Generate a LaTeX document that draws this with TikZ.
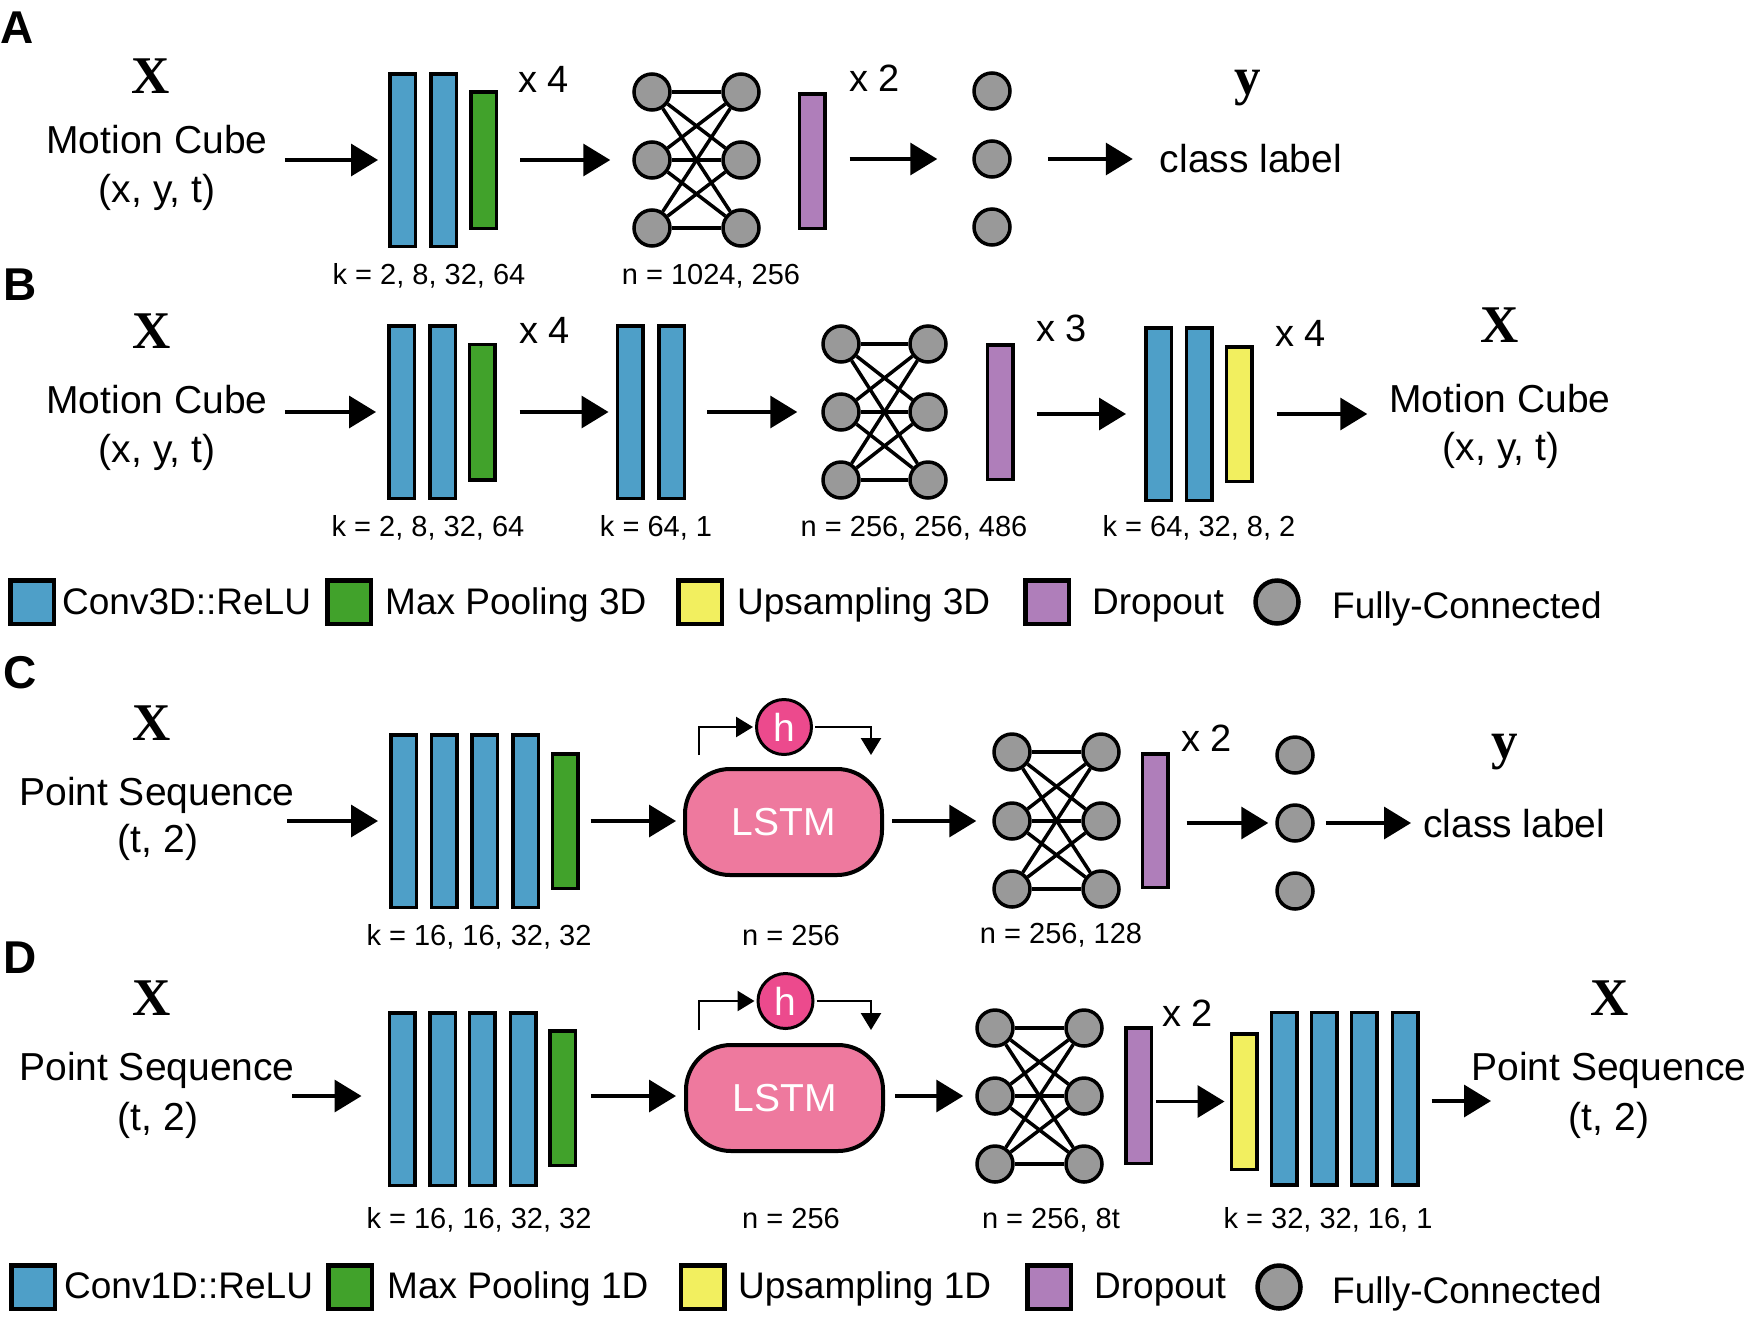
\documentclass[tikz,border=0pt]{standalone}
\usepackage{fontspec}
\setmainfont{Liberation Sans}
\newfontfamily\varfont{Liberation Serif}
\usetikzlibrary{arrows.meta}
\definecolor{cblue}{HTML}{4E9FC8}
\definecolor{cgreen}{HTML}{41A22B}
\definecolor{cyellow}{HTML}{F2EF5F}
\definecolor{cpurple}{HTML}{AF7EBA}
\definecolor{cgray}{HTML}{999999}
\definecolor{clstm}{HTML}{EE799E}
\definecolor{chid}{HTML}{EC4A8D}
\tikzset{
  bar/.style={draw=black, line width=3.5pt, inner sep=0pt, minimum width=25.5pt},
  conv/.style={bar, fill=cblue, minimum height=172.5pt},
  pool/.style={bar, fill=cgreen},
  ups/.style={bar, fill=cyellow},
  drop/.style={bar, fill=cpurple},
  neuron/.style={circle, draw=black, fill=cgray, line width=3.5pt, minimum size=36pt, inner sep=0pt},
  conn/.style={line width=3.5pt},
  arr/.style={line width=3.5pt, -{Triangle[length=27pt,width=32pt]}},
  fbarr/.style={line width=2.5pt, -{Triangle[length=17pt,width=20pt]}},
  txt/.style={font=\fontsize{39}{47}\selectfont, inner sep=0pt, anchor=base},
  rep/.style={font=\fontsize{38}{46}\selectfont, inner sep=0pt, anchor=base west},
  lab/.style={font=\fontsize{29}{35}\selectfont, inner sep=0pt, anchor=base},
  ltxt/.style={font=\fontsize{37}{44}\selectfont, inner sep=0pt, anchor=base west},
  varx/.style={font=\varfont\bfseries\fontsize{53}{60}\selectfont, inner sep=0pt, anchor=base},
  pl/.style={font=\bfseries\fontsize{46}{52}\selectfont, inner sep=0pt, anchor=base west},
  lsq/.style={draw=black, line width=4.5pt, minimum size=43.5pt, inner sep=0pt},
  lcirc/.style={circle, draw=black, fill=cgray, line width=4.5pt, minimum size=43pt, inner sep=0pt},
  lstm/.style={draw=black, fill=clstm, line width=4pt, rounded corners=45pt, minimum width=197pt, minimum height=106pt, inner sep=0pt, text=white, font=\fontsize{39}{47}\selectfont},
  hid/.style={circle, draw=black, fill=chid, line width=3pt, minimum size=55pt, inner sep=0pt, text=white, font=\fontsize{39}{47}\selectfont},
}
\begin{document}
\begin{tikzpicture}[x=1pt,y=-1pt]
\useasboundingbox (0,0) rectangle (1745,1323);

% ================= Panel A =================
\node[pl] (pA) at (0,43) {A};
\node[varx] (xA) at (151,93) {X};
\node[txt] (mcA) at (157,153) {Motion Cube};
\node[txt] (mcA2) at (157,202) {(x, y, t)};
\node[conv] (bA1) at (402.5,160) {};
\node[conv] (bA2) at (443.5,160) {};
\node[pool, minimum height=136.5pt] (gA) at (483.5,160) {};
\node[rep] (rA1) at (518,92) {x 4};
\foreach \i/\yy in {1/92,2/160,3/228}{
  \node[neuron] (nAL\i) at (652,\yy) {};
  \node[neuron] (nAR\i) at (741,\yy) {};
}
\foreach \i in {1,2,3}{\foreach \j in {1,2,3}{\draw[conn] (nAL\i) -- (nAR\j);}}
\node[drop, minimum height=134.5pt] (dA) at (812,161) {};
\node[rep] (rA2) at (849,91) {x 2};
\foreach \i/\yy in {1/91,2/159,3/227}{\node[neuron] (oA\i) at (992,\yy) {};}
\node[varx] (yA) at (1248,94) {y};
\node[txt] (clA) at (1251,172) {class label};
\node[lab] (kA1) at (429,284) {k = 2, 8, 32, 64};
\node[lab] (kA2) at (711,284) {n = 1024, 256};
\draw[arr, shorten <=17pt, shorten >=10pt] (mcA.east |- bA1.west) -- (bA1.west);
\draw[arr, shorten <=22pt, shorten >=22pt] (gA.east |- nAL2.west) -- (nAL2.west);
\draw[arr, shorten <=23pt, shorten >=35pt] (dA.east |- oA2.west) -- (oA2.west);
\draw[arr, shorten <=36pt, shorten >=27pt] (oA2.east) -- (oA2.east -| clA.west);

% ================= Panel B =================
\node[pl] (pB) at (3,300) {B};
\node[varx] (xB) at (152,348) {X};
\node[txt] (mcB) at (157,413) {Motion Cube};
\node[txt] (mcB2) at (157,462) {(x, y, t)};
\node[conv] (bB1) at (401.5,412) {};
\node[conv] (bB2) at (442.5,412) {};
\node[pool, minimum height=135.5pt] (gB) at (482,412) {};
\node[rep] (rB1) at (519,343) {x 4};
\node[conv] (bB3) at (630,412) {};
\node[conv] (bB4) at (671.5,412) {};
\foreach \i/\yy in {1/344,2/412,3/480}{
  \node[neuron] (nBL\i) at (841,\yy) {};
  \node[neuron] (nBR\i) at (928,\yy) {};
}
\foreach \i in {1,2,3}{\foreach \j in {1,2,3}{\draw[conn] (nBL\i) -- (nBR\j);}}
\node[drop, minimum height=134.5pt] (dB) at (1000,412) {};
\node[rep] (rB2) at (1036,341) {x 3};
\node[conv] (bB5) at (1158.5,414) {};
\node[conv] (bB6) at (1199,414) {};
\node[ups, minimum height=134.5pt] (uB) at (1239,414) {};
\node[rep] (rB3) at (1275,346) {x 4};
\node[varx] (xB2) at (1500,342) {X};
\node[txt] (mcB3) at (1500,412) {Motion Cube};
\node[txt] (mcB4) at (1501,460) {(x, y, t)};
\node[lab] (kB1) at (428,536) {k = 2, 8, 32, 64};
\node[lab] (kB2) at (656,536) {k = 64, 1};
\node[lab] (kB3) at (914,536) {n = 256, 256, 486};
\node[lab] (kB4) at (1199,536) {k = 64, 32, 8, 2};
\draw[arr, shorten <=17pt, shorten >=11pt] (mcB.east |- bB1.west) -- (bB1.west);
\draw[arr, shorten <=23pt, shorten >=7pt] (gB.east) -- (bB3.west);
\draw[arr, shorten <=21pt, shorten >=24pt] (bB4.east) -- (nBL2.west);
\draw[arr, shorten <=22pt, shorten >=18pt] (dB.east |- bB5.west) -- (bB5.west);
\draw[arr, shorten <=23pt, shorten >=22pt] (uB.east) -- (uB.east -| mcB3.west);

% ================= Legend 1 =================
\node[lsq, fill=cblue] (lg1a) at (32,602) {};
\node[ltxt] (lt1a) at (62,614) {Conv3D::ReLU};
\node[lsq, fill=cgreen] (lg1b) at (349,602) {};
\node[ltxt] (lt1b) at (385,614) {Max Pooling 3D};
\node[lsq, fill=cyellow] (lg1c) at (700,602) {};
\node[ltxt] (lt1c) at (737,614) {Upsampling 3D};
\node[lsq, fill=cpurple] (lg1d) at (1047,602) {};
\node[ltxt] (lt1d) at (1092,614) {Dropout};
\node[lcirc] (lg1e) at (1277,602) {};
\node[ltxt] (lt1e) at (1332,618) {Fully-Connected};

% ================= Panel C =================
\node[pl] (pC) at (3,688) {C};
\node[varx] (xC) at (152,740) {X};
\node[txt] (psC) at (157,805) {Point Sequence};
\node[txt] (psC2) at (158,852) {(t, 2)};
\node[conv] (bC1) at (403.5,821) {};
\node[conv] (bC2) at (444,821) {};
\node[conv] (bC3) at (484.5,821) {};
\node[conv] (bC4) at (525.5,821) {};
\node[pool, minimum height=134.5pt] (gC) at (565,821) {};
\node[lstm] (lC) at (783.5,822) {LSTM};
\node[hid] (hC) at (784,727) {h};
\coordinate (fC1) at (699,755);
\coordinate (fC2) at (871,755);
\draw[fbarr, shorten >=2pt] (fC1) |- (hC.west);
\draw[fbarr, shorten <=2pt] (hC.east) -| (fC2);
\foreach \i/\yy in {1/752,2/821,3/889}{
  \node[neuron] (nCL\i) at (1012,\yy) {};
  \node[neuron] (nCR\i) at (1101,\yy) {};
}
\foreach \i in {1,2,3}{\foreach \j in {1,2,3}{\draw[conn] (nCL\i) -- (nCR\j);}}
\node[drop, minimum height=133.5pt] (dC) at (1155,820.5) {};
\node[rep] (rC1) at (1181,751) {x 2};
\foreach \i/\yy in {1/755,2/823,3/891}{\node[neuron] (oC\i) at (1295,\yy) {};}
\node[varx] (yC) at (1505,758) {y};
\node[txt, anchor=base west] (clC) at (1423,837) {class label};
\node[lab] (kC1) at (479,945) {k = 16, 16, 32, 32};
\node[lab] (kC2) at (791,945) {n = 256};
\node[lab] (kC3) at (1061,943) {n = 256, 128};
\coordinate (sC1) at (287,821);
\draw[arr, shorten >=11pt] (sC1) -- (bC1.west);
\draw[arr, shorten <=11pt, shorten >=7pt] (gC.east) -- (gC.east -| lC.west);
\draw[arr, shorten <=8pt, shorten >=16pt] (lC.east |- nCL2.west) -- (nCL2.west);
\draw[arr, shorten <=17pt, shorten >=7pt] (dC.east |- oC2.west) -- (oC2.west);
\draw[arr, shorten <=11pt, shorten >=12pt] (oC2.east) -- (oC2.east -| clC.west);

% ================= Panel D =================
\node[pl] (pD) at (3,973) {D};
\node[varx] (xD) at (152,1015) {X};
\node[txt] (psD) at (157,1080) {Point Sequence};
\node[txt] (psD2) at (158,1130) {(t, 2)};
\node[conv] (bD1) at (402,1099) {};
\node[conv] (bD2) at (442.5,1099) {};
\node[conv] (bD3) at (482,1099) {};
\node[conv] (bD4) at (523,1099) {};
\node[pool, minimum height=134.5pt] (gD) at (562.5,1098) {};
\node[lstm] (lD) at (784.5,1098) {LSTM};
\node[hid] (hD) at (785.5,1001) {h};
\coordinate (fD1) at (699,1030);
\coordinate (fD2) at (871,1030);
\draw[fbarr, shorten >=2pt] (fD1) |- (hD.west);
\draw[fbarr, shorten <=2pt] (hD.east) -| (fD2);
\foreach \i/\yy in {1/1028,2/1096,3/1164}{
  \node[neuron] (nDL\i) at (995,\yy) {};
  \node[neuron] (nDR\i) at (1084,\yy) {};
}
\foreach \i in {1,2,3}{\foreach \j in {1,2,3}{\draw[conn] (nDL\i) -- (nDR\j);}}
\node[drop, minimum height=135.5pt] (dD) at (1138.5,1095.5) {};
\node[rep] (rD1) at (1162,1026) {x 2};
\node[ups, minimum height=135.5pt] (uD) at (1244,1101.5) {};
\node[conv] (bD5) at (1284,1098.5) {};
\node[conv] (bD6) at (1324,1098.5) {};
\node[conv] (bD7) at (1364,1098.5) {};
\node[conv] (bD8) at (1405,1098.5) {};
\node[varx] (xD2) at (1610,1015) {X};
\node[txt] (psD3) at (1609,1080) {Point Sequence};
\node[txt] (psD4) at (1609,1130) {(t, 2)};
\node[lab] (kD1) at (479,1228) {k = 16, 16, 32, 32};
\node[lab] (kD2) at (791,1228) {n = 256};
\node[lab] (kD3) at (1051,1228) {n = 256, 8t};
\node[lab] (kD4) at (1328,1228) {k = 32, 32, 16, 1};
\coordinate (sD1) at (292,1096);
\draw[arr, shorten >=26pt] (sD1) -- (sD1 -| bD1.west);
\draw[arr, shorten <=14pt, shorten >=8pt] (gD.east |- nDL2.west) -- (nDL2.west -| lD.west);
\draw[arr, shorten <=10pt, shorten >=12pt] (lD.east |- nDL2.west) -- (nDL2.west);
\draw[arr, shorten <=3pt, shorten >=5pt] (dD.east |- uD.west) -- (uD.west);
\coordinate (eD5) at (1491,1101);
\draw[arr, shorten <=12pt] (bD8.east |- eD5) -- (eD5);

% ================= Legend 2 =================
\node[lsq, fill=cblue] (lg2a) at (33,1287) {};
\node[ltxt] (lt2a) at (64,1298) {Conv1D::ReLU};
\node[lsq, fill=cgreen] (lg2b) at (350,1287) {};
\node[ltxt] (lt2b) at (387,1298) {Max Pooling 1D};
\node[lsq, fill=cyellow] (lg2c) at (702.5,1287) {};
\node[ltxt] (lt2c) at (738,1298) {Upsampling 1D};
\node[lsq, fill=cpurple] (lg2d) at (1049,1287) {};
\node[ltxt] (lt2d) at (1094,1298) {Dropout};
\node[lcirc] (lg2e) at (1279,1287) {};
\node[ltxt] (lt2e) at (1332,1303) {Fully-Connected};
\end{tikzpicture}
\end{document}
